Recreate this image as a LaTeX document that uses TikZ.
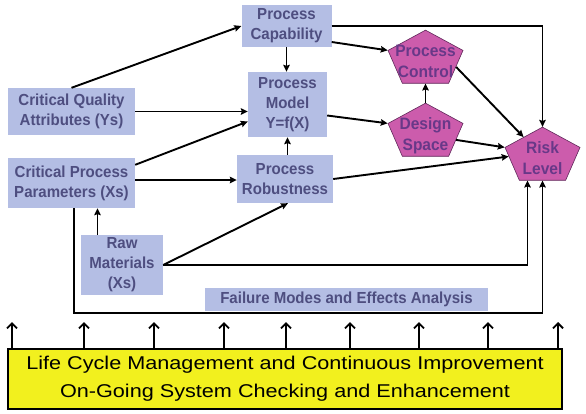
\documentclass[tikz,border=0pt]{standalone}
\usepackage{graphicx}
\usepackage{fontspec}
\setmainfont{Liberation Sans}
\newfontfamily\widefont[FakeStretch=1.17]{Liberation Sans}
\newfontfamily\boxfont[FakeStretch=0.94]{Liberation Sans}
\usepackage{xcolor}
\usepackage{tikz}
\usetikzlibrary{shapes.geometric, arrows.meta}

\definecolor{boxblue}{RGB}{180,190,228}
\definecolor{boxtext}{RGB}{78,78,128}
\definecolor{penpink}{RGB}{204,92,172}
\definecolor{pentext}{RGB}{104,56,136}
\definecolor{penline}{RGB}{96,40,90}
\definecolor{lcmyellow}{RGB}{242,240,30}

% text of a squashed pentagon (scaled back up, kept out of the shape size)
\newcommand{\pentext}[1]{\makebox[0pt]{\smash{\raisebox{-.5\height}{\scalebox{1}[1.342]{\begin{tabular}[b]{@{}c@{}}#1\end{tabular}}}}}}

\begin{document}
\begin{tikzpicture}[x=1pt,y=-1pt,>={Stealth[length=7pt,width=6.5pt,inset=1pt]},
    every node/.style={inner sep=0pt},
    box/.style={fill=boxblue,text=boxtext,align=center,font=\boxfont\bfseries\fontsize{16}{20}\selectfont},
    penta/.style={regular polygon,regular polygon sides=5,minimum size=78.8pt,yscale=0.745,transform shape,
        fill=penpink,draw=penline,line width=0.6pt,text=pentext,font=\boxfont\bfseries\fontsize{16.5}{21}\selectfont},
    link/.style={->,line width=1.9pt},
    uplink/.style={-{Straight Barb[length=5pt,width=10pt]},line width=1.9pt}]
    \useasboundingbox (0,0) rectangle (586,413);

    % boxes
    \node[box,minimum width=90pt,minimum height=42pt] (cap) at (286.5,26) {Process\\Capability};
    \node[box,minimum width=79pt,minimum height=65pt] (pmod) at (287.5,104.5) {Process\\Model\\Y=f(X)};
    \node[box,minimum width=127pt,minimum height=47pt] (cqa) at (71.5,111.5) {Critical Quality\\Attributes (Ys)};
    \node[box,minimum width=127pt,minimum height=50pt] (cpp) at (71.5,183) {Critical Process\\Parameters (Xs)};
    \node[box,minimum width=96pt,minimum height=48pt] (prob) at (285,179) {Process\\Robustness};
    \node[box,minimum width=82pt,minimum height=60pt] (raw) at (122,265) {Raw\\Materials\\(Xs)};
    \node[box,minimum width=283pt,minimum height=23pt] (fmea) at (346.5,299.5) {Failure Modes and Effects Analysis};
    % pentagons
    \node[penta] (pc) at (425.5,59.5) {\pentext{Process\\Control}};
    \node[penta] (ds) at (425.5,132.5) {\pentext{Design\\Space}};
    \node[penta] (rl) at (542.5,156.5) {\pentext{Risk\\Level}};
    % life cycle bar
    \node[draw=black,line width=1.8pt,fill=lcmyellow,minimum width=554pt,minimum height=60pt,align=center,
        font=\widefont\fontsize{18.5}{28}\selectfont] (lcm) at (285,379)
        {Life Cycle Management and Continuous Improvement\\On-Going System Checking and Enhancement};

    % into the process model
    \draw[link] (cqa.north) -- (cap.west);
    \draw[link] (cqa.east) -- (cqa.east -| pmod.west);
    \draw[link] ([yshift=-7pt]cpp.north east) -- ([yshift=-17pt]pmod.west);
    \draw[link] ([yshift=3pt]cpp.east) -- ([yshift=3pt]cpp.east -| prob.west);
    \draw[link] (cap.south) -- (cap.south |- pmod.north);
    \draw[link] (pmod.south |- prob.north) -- (pmod.south);
    \draw[link] (raw.east) -- ([xshift=3pt]prob.south);
    \draw[link] ([xshift=-24.5pt]raw.north) -- ([xshift=-24.5pt]raw.north |- cpp.south);
    % towards control, design space and risk
    \draw[link] ([yshift=-16pt]cap.east) -- (pc.corner 2);
    \draw[link] (cap.east) -| (rl.north);
    \draw[link] ([yshift=-11pt]pmod.east) -- (ds.corner 2);
    \draw[link] (ds.north) -- (pc.south);
    \draw[link] (pc.side 4) -- (rl.side 1);
    \draw[link] (ds.side 4) -- (rl.corner 2);
    \draw[link] (prob.east) -- (rl.west);
    \draw[link] (raw.east) -| ([xshift=-15pt]rl.south);
    \draw[link] ([xshift=2.5pt]cpp.south) |- ([yshift=-1.5pt]fmea.south) -| (rl.south);

    % feedback from the life cycle bar
    \foreach \x [count=\i] in {12,84,154,224,286,350,419,488,558} {
        \coordinate (up\i) at (\x,322);
        \draw[uplink] (lcm.north -| up\i) -- (up\i);
    }
\end{tikzpicture}
\end{document}
